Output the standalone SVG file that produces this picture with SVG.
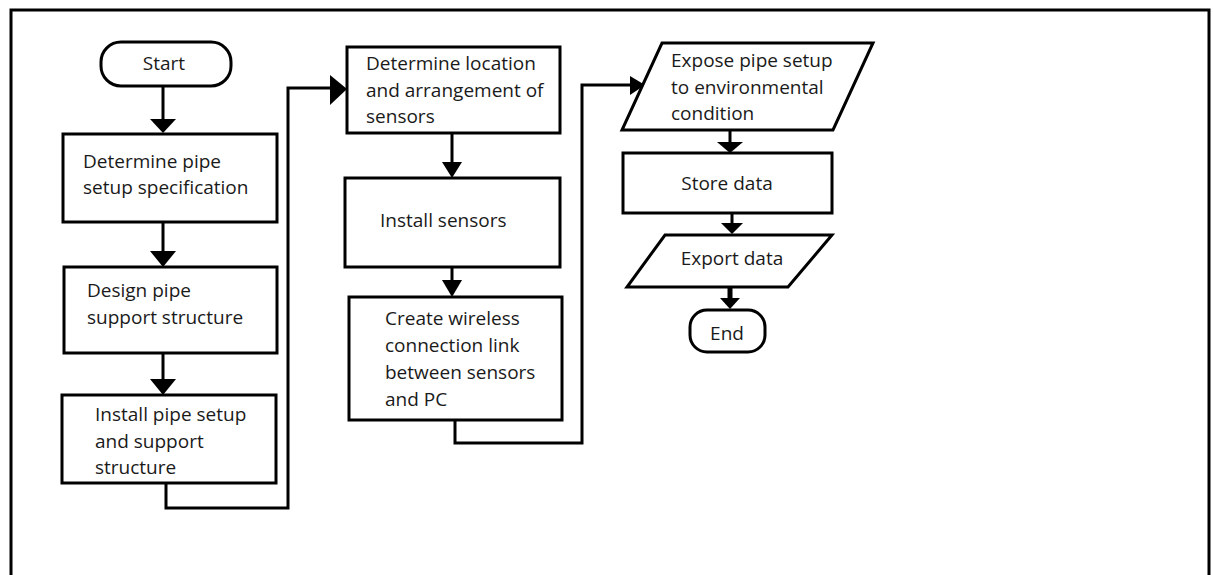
<svg xmlns="http://www.w3.org/2000/svg" width="1213" height="575" viewBox="0 0 1213 575">
<defs>
<style>
.s{fill:#fff;stroke:#000;stroke-width:3}
.c{fill:none;stroke:#000;stroke-width:3}
.t{font-family:"Open Sans","Liberation Sans",sans-serif;font-size:19px;fill:#1a1a1a}
.m{text-anchor:middle}
.h{fill:#000}
</style>
</defs>
<rect x="0" y="0" width="1213" height="575" fill="#fff"/>
<path d="M11 580 V10 H1209 V580" fill="none" stroke="#000" stroke-width="3"/>
<g id="connectors">
<line class="c" x1="163" y1="86" x2="163" y2="122"/>
<polygon class="h" points="150,119 176,119 163,133"/>
<line class="c" x1="163" y1="222" x2="163" y2="254"/>
<polygon class="h" points="150,251 176,251 163,267"/>
<line class="c" x1="163" y1="353" x2="163" y2="382"/>
<polygon class="h" points="150,379 176,379 163,395"/>
<path class="c" d="M166 483 V508 H288 V88 H333"/>
<polygon class="h" points="330,75 347,89 330,105"/>
<line class="c" x1="452" y1="133" x2="452" y2="165"/>
<polygon class="h" points="442,162 462,162 452,178"/>
<line class="c" x1="452" y1="267" x2="452" y2="283"/>
<polygon class="h" points="442,280 462,280 452,297"/>
<path class="c" d="M455 420 V443 H582 V85 H632"/>
<polygon class="h" points="630,76 645,85 630,95"/>
<line class="c" x1="730" y1="130" x2="730" y2="144"/>
<polygon class="h" points="717,142 743,142 730,153"/>
<line class="c" x1="732" y1="213" x2="732" y2="225"/>
<polygon class="h" points="721,223 743,223 732,234"/>
<line x1="730" y1="287" x2="730" y2="300" stroke="#000" stroke-width="5"/>
<polygon class="h" points="720,298 740,298 730,309"/>
</g>
<g id="start">
<rect class="s" x="101" y="42" width="130" height="44" rx="20"/>
<text class="t m" x="164" y="70">Start</text>
</g>
<g id="n1">
<rect class="s" x="63" y="134" width="214" height="88"/>
<text class="t" x="83" y="168">Determine pipe</text>
<text class="t" x="83" y="194">setup specification</text>
</g>
<g id="n2">
<rect class="s" x="64" y="267" width="213" height="86"/>
<text class="t" x="87" y="297">Design pipe</text>
<text class="t" x="87" y="324">support structure</text>
</g>
<g id="n3">
<rect class="s" x="62" y="395" width="214" height="88"/>
<text class="t" x="95" y="421">Install pipe setup</text>
<text class="t" x="95" y="448">and support</text>
<text class="t" x="95" y="474">structure</text>
</g>
<g id="n4">
<rect class="s" x="347" y="47" width="213" height="86"/>
<text class="t" x="366" y="70">Determine location</text>
<text class="t" x="366" y="97">and arrangement of</text>
<text class="t" x="366" y="123">sensors</text>
</g>
<g id="n5">
<rect class="s" x="345" y="178" width="215" height="89"/>
<text class="t" x="380" y="227">Install sensors</text>
</g>
<g id="n6">
<rect class="s" x="349" y="297" width="213" height="123"/>
<text class="t" x="385" y="325">Create wireless</text>
<text class="t" x="385" y="352">connection link</text>
<text class="t" x="385" y="379">between sensors</text>
<text class="t" x="385" y="406">and PC</text>
</g>
<g id="n7">
<polygon class="s" points="662,43 873,43 833,130 622,130"/>
<text class="t" x="671" y="67">Expose pipe setup</text>
<text class="t" x="671" y="94">to environmental</text>
<text class="t" x="671" y="120">condition</text>
</g>
<g id="n8">
<rect class="s" x="623" y="153" width="209" height="60"/>
<text class="t m" x="727" y="190">Store data</text>
</g>
<g id="n9">
<polygon class="s" points="665,235 832,235 788,287 627,287"/>
<text class="t m" x="732" y="265">Export data</text>
</g>
<g id="end">
<rect class="s" x="690" y="310" width="75" height="42" rx="17"/>
<text class="t m" x="727" y="340">End</text>
</g>
</svg>
